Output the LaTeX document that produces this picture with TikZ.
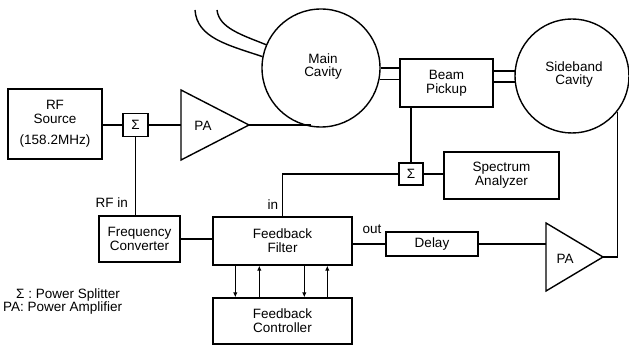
\documentclass[tikz,border=0pt]{standalone}
\usepackage{fontspec}
\setmainfont{Liberation Sans}
\usetikzlibrary{arrows.meta,calc}
\begin{document}
\begin{tikzpicture}[x=1pt,y=-1pt,
  every node/.style={font=\fontsize{13.5}{14}\selectfont},
  ln/.style={line width=1.4pt},
  blk/.style={draw,line width=1.4pt,align=center,inner sep=0pt},
  sig/.style={draw,line width=1.4pt,inner sep=0pt,minimum width=25pt,minimum height=23pt},
  cav/.style={draw,circle,line width=1.4pt,inner sep=0pt,align=center},
  lbl/.style={inner sep=1pt},
  arr/.style={line width=1.4pt,-{Latex[length=5pt,width=4.5pt]}}]
\useasboundingbox (0,0) rectangle (629,347);
% blocks
\node[blk,minimum width=94pt,minimum height=70pt] (rfs) at (55,124) {RF\\Source\\[7pt](158.2MHz)};
\node[sig] (s1) at (135.5,125) {Σ};
\node[blk,minimum width=81pt,minimum height=46pt] (fc) at (139.5,239) {Frequency\\Converter};
\node[blk,minimum width=139pt,minimum height=48pt] (ff) at (282.5,241) {Feedback\\Filter};
\node[blk,minimum width=139pt,minimum height=46pt] (fcon) at (282.5,321) {Feedback\\Controller};
\node[blk,minimum width=93pt,minimum height=48pt] (bp) at (446.5,83) {Beam\\Pickup};
\node[sig,minimum width=24pt,minimum height=22pt] (s2) at (411,174) {Σ};
\node[blk,minimum width=115pt,minimum height=47pt] (sa) at (501.5,175.5) {Spectrum\\Analyzer};
\node[blk,minimum width=92pt,minimum height=24pt] (dl) at (432,244) {Delay};
\node[cav,minimum size=118pt] (mc) at (321,68) {};
\node[align=center] (mct) at (323,67) {Main\\[-1pt]Cavity};
\node[cav,minimum size=114pt] (sb) at (572,76) {};
\node[align=center] (sbt) at (574,75) {Sideband\\[-1pt]Cavity};
% power amplifiers
\coordinate (pa1in) at (181,125);
\coordinate (pa1tip) at (249,125);
\draw[ln,line join=miter] (181,90) -- (pa1tip) -- (181,160) -- cycle;
\node (pa1t) at (203,126) {PA};
\coordinate (pa2in) at (546,244);
\coordinate (pa2tip) at (603,257);
\draw[ln,line join=miter] (546,223) -- (pa2tip) -- (546,291) -- cycle;
\node (pa2t) at (565,259) {PA};
% arcs into main cavity
\coordinate (a1) at (195,10);
\coordinate (a2) at (217,10);
\draw[ln] (a1) .. controls (197,38) and (228,45) .. (mc.169);
\draw[ln] (a2) .. controls (219,28) and (242,35) .. (mc.157);
% connectors
\draw[ln] (s1.west) -- (s1.west -| rfs.east);
\draw[ln] (s1.east) -- (pa1in);
\draw[ln] (pa1tip) -- (pa1tip -| mc.-100);
\draw[ln] (s1.south) -- (s1.south |- fc.north);
\draw[ln] (fc.east) -- (fc.east -| ff.west);
\draw[ln] (s2.west) -| (ff.north);
\draw[ln] (s2.north) -- (s2.north |- bp.south);
\draw[ln] (s2.east) -- (s2.east -| sa.west);
\draw[ln] (dl.west) -- (dl.west -| ff.east);
\draw[ln] (dl.east) -- (pa2in);
\draw[ln] (sb.-38) |- (pa2tip);
\draw[ln] (mc.0) -- (mc.0 -| bp.west);
\draw[ln] (mc.-11.7) -- (mc.-11.7 -| bp.west);
\draw[ln] (sb.175) -- (sb.175 -| bp.east);
\draw[ln] (sb.186) -- (sb.186 -| bp.east);
% filter <-> controller
\draw[arr] ([xshift=23pt]ff.south west) -- ([xshift=23pt]fcon.north west);
\draw[arr] ([xshift=47pt]fcon.north west) -- ([xshift=47pt]ff.south west);
\draw[arr] ([xshift=92pt]ff.south west) -- ([xshift=92pt]fcon.north west);
\draw[arr] ([xshift=115pt]fcon.north west) -- ([xshift=115pt]ff.south west);
% labels
\node[lbl,anchor=east] (rfin) at (129,203) {RF in};
\node[lbl] (inl) at (273,205) {in};
\node[lbl] (outl) at (372,229) {out};
\node[lbl,anchor=west] (lg1) at (15,295) {Σ : Power Splitter};
\node[lbl,anchor=west] (lg2) at (2,308) {PA: Power Amplifier};
\end{tikzpicture}
\end{document}
